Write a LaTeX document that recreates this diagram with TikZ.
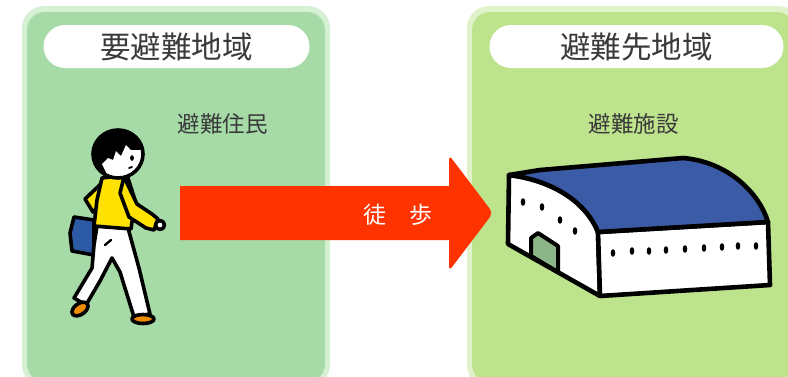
\documentclass[tikz,border=0pt]{standalone}
\usepackage{fontspec}
\setmainfont{Noto Sans CJK JP}
\definecolor{leftgreen}{RGB}{166,219,168}
\definecolor{leftrim}{RGB}{214,240,212}
\definecolor{rightgreen}{RGB}{190,227,141}
\definecolor{rightrim}{RGB}{224,242,202}
\definecolor{labelgray}{RGB}{58,58,58}
\definecolor{arrowred}{RGB}{255,51,0}
\definecolor{shirt}{RGB}{255,226,0}
\definecolor{bagblue}{RGB}{44,90,165}
\definecolor{roofblue}{RGB}{59,91,166}
\definecolor{shoe}{RGB}{240,140,0}
\definecolor{doorgreen}{RGB}{141,181,138}
\begin{document}
\begin{tikzpicture}[x=1pt,y=-1pt,
  pill/.style={fill=white,rounded corners=21.5pt,minimum width=266pt,minimum height=43pt,inner sep=0pt},
  titletext/.style={text=labelgray,font=\fontsize{30.5}{30.5}\selectfont},
  subtext/.style={text=labelgray,font=\fontsize{22.5}{22.5}\selectfont},
  ink/.style={draw=black,line width=3.6pt,line join=round,line cap=round},
  wall/.style={draw=black,line width=4.6pt,line join=round,line cap=round}]
\useasboundingbox (0,0) rectangle (788,376);
\fill[white] (0,0) rectangle (788,376);

% regions
\fill[leftrim,rounded corners=22pt] (22,6) rectangle (330,387);
\fill[leftgreen,rounded corners=18pt] (27,12) rectangle (325,382);
\fill[rightrim,rounded corners=22pt] (467,6) rectangle (800,387);
\fill[rightgreen,rounded corners=18pt] (472,12) rectangle (795,382);

% region titles
\node[pill] (ltitle) at (176.5,46.5) {};
\node[titletext] at (ltitle) {要避難地域};
\node[pill,minimum width=294pt] (rtitle) at (636.5,46.5) {};
\node[titletext] at (rtitle) {避難先地域};

% sub labels
\node[subtext] (resident) at (222.5,124) {避難住民};
\node[subtext] (shelter) at (633.5,124) {避難施設};

% walking arrow
\coordinate (atail) at (180,213);
\coordinate (atip) at (493,213);
\fill[arrowred] (180,186) -- (449,186) [rounded corners=5pt] -- (449,155) -- (493,213) -- (449,271) [sharp corners] -- (449,240) -- (180,240) -- cycle;
\node[text=white,font=\fontsize{23}{23}\selectfont] (walk) at (397.5,215) {徒　歩};

% person: bag behind
\path[ink,fill=bagblue] (74,217) -- (94,220) -- (94,255) -- (72,251) -- (70,233) -- cycle;
% back arm
\path[ink,fill=shirt] (105,180) -- (85,199) -- (93,212) -- (101,204) -- cycle;
% legs
\path[ink,fill=white] (97,226) -- (128,228) -- (139,268) -- (150,314) -- (134,317) -- (120,272) -- (112,258) -- (100,281) -- (86,305) -- (74,298) -- (92,268) -- (94,245) -- cycle;
\draw[ink,line width=2.4pt] (105,245) -- (111,240);
% shoes
\path[ink,fill=shoe,rotate around={35:(80,309)}] (80,309) ellipse [x radius=9, y radius=5.5];
\path[ink,fill=shoe] (143,319) ellipse [x radius=11, y radius=4.5];
% torso
\path[ink,fill=shirt] (102,178) -- (127,175) -- (135,200) -- (131,229) -- (94,226) -- (97,200) -- cycle;
% front arm
\path[ink,fill=shirt] (124,177) -- (137,204) -- (152,214) -- (158,219) -- (154,230) -- (146,228) -- (129,217) -- (120,193) -- cycle;
\path[ink,fill=white] (160,225) circle [radius=4.5];
% head
\fill[black] (118,154) ellipse [x radius=25, y radius=24];
\begin{scope}
  \clip (118,154) ellipse [x radius=25, y radius=24];
  \fill[white] (102,164) -- (108,158) -- (113,160) -- (116,151) -- (121,156) -- (126,145) -- (131,150) -- (146,150) -- (146,182) -- (104,182) -- (106,172) -- cycle;
\end{scope}
\draw[ink] (118,154) ellipse [x radius=25, y radius=24];
\fill[black] (132,158) ellipse [x radius=1.9, y radius=2.8];
\draw[ink,line width=1.8pt] (129,168) -- (132,167);

% shelter building
\coordinate (rl) at (509,175);
\coordinate (rf) at (598,232);
\coordinate (rr) at (768,222);
\path[wall,fill=white] (rl) .. controls (550,180) and (585,200) .. (rf) -- (600,296) -- (508,244) -- cycle;
\path[wall,fill=white] (rf) -- (rr) -- (770,285) -- (600,296) -- cycle;
\path[wall,fill=roofblue] (rl) -- (540,170) -- (683,158) .. controls (730,162) and (760,195) .. (rr) -- (rf) .. controls (585,200) and (550,180) .. (rl) -- cycle;
% door
\path[wall,line width=4pt,fill=doorgreen] (531,256) -- (531,238) -- (538,233) -- (558,246) -- (558,272) -- cycle;
% windows
\foreach \x/\y in {523/202,542/207,560/220,575/231,613/253,632/251,649/251,666/250,685/249,704/248,722/247,738/246,756/246}
  \fill[black] (\x,\y) ellipse [x radius=2.3, y radius=3.8];
\end{tikzpicture}
\end{document}
